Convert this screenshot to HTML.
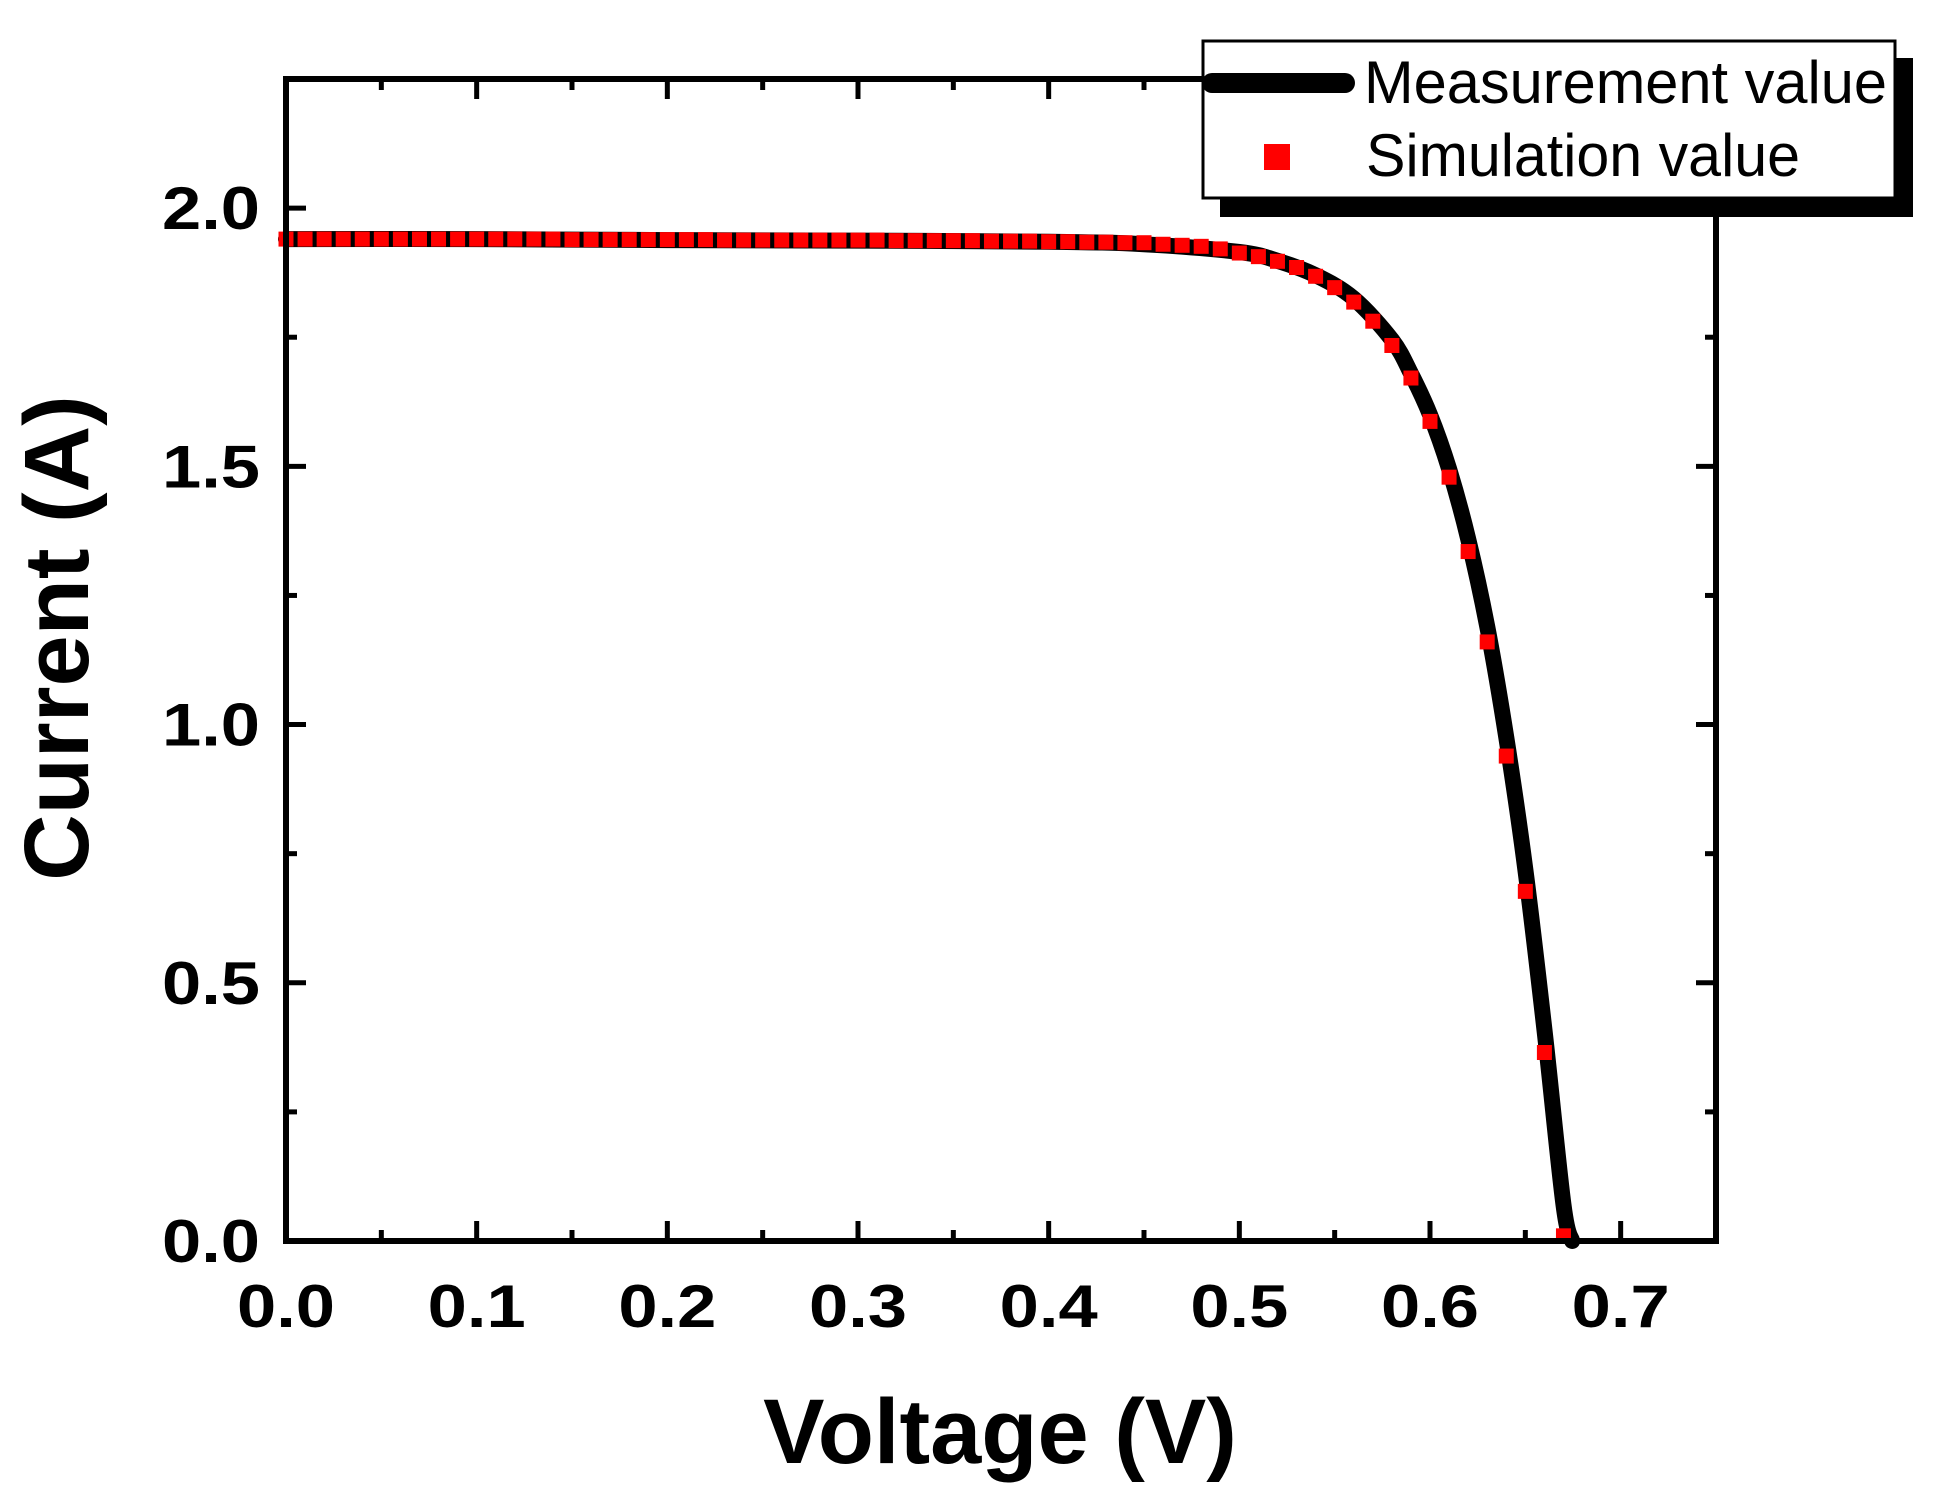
<!DOCTYPE html>
<html><head><meta charset="utf-8"><style>
html,body{margin:0;padding:0;background:#fff}
svg{display:block}
text{font-family:"Liberation Sans",Arial,sans-serif}
</style></head><body>
<svg id="chart" width="1942" height="1495" viewBox="0 0 1942 1495" xmlns="http://www.w3.org/2000/svg">
<g id="ticks"></g>
<g id="series"></g>
<rect x="286" y="79" width="1430" height="1162" fill="none" stroke="#000" stroke-width="6"/>
<g id="labels"></g>
<text x="1000" y="1463" text-anchor="middle" font-size="92" font-weight="bold">Voltage  (V)</text>
<text transform="translate(88,638) rotate(-90)" text-anchor="middle" font-size="92" font-weight="bold">Current  (A)</text>
<g>
<rect x="1220" y="58" width="693" height="159" fill="#000"/>
<rect x="1203" y="41" width="692" height="157" fill="#fff" stroke="#000" stroke-width="3"/>
<line x1="1212" y1="83" x2="1345" y2="83" stroke="#000" stroke-width="20" stroke-linecap="round"/>
<text x="1364" y="103" font-size="60" textLength="523" lengthAdjust="spacingAndGlyphs">Measurement value</text>
<rect x="1264" y="144" width="26" height="26" fill="#ff0000"/>
<text x="1366" y="176" font-size="60" textLength="434" lengthAdjust="spacingAndGlyphs">Simulation value</text>
</g>
</svg>
<script>
const xTicks=["0.0","0.1","0.2","0.3","0.4","0.5","0.6","0.7"];
const yTicks=["0.0","0.5","1.0","1.5","2.0"];
const measV=[0,0.1,0.2,0.3,0.4,0.45,0.5,0.52,0.54,0.56,0.58,0.59,0.6,0.61,0.62,0.63,0.64,0.65,0.66,0.67,0.6746];
const measI=[1.94,1.94,1.938,1.937,1.935,1.93,1.915,1.898,1.87,1.825,1.745,1.68,1.6,1.495,1.36,1.19,0.975,0.72,0.41,0.07,0.0];
const simV=[0,0.01,0.02,0.03,0.04,0.05,0.06,0.07,0.08,0.09,0.1,0.11,0.12,0.13,0.14,0.15,0.16,0.17,0.18,0.19,0.2,0.21,0.22,0.23,0.24,0.25,0.26,0.27,0.28,0.29,0.3,0.31,0.32,0.33,0.34,0.35,0.36,0.37,0.38,0.39,0.4,0.41,0.42,0.43,0.44,0.45,0.46,0.47,0.48,0.49,0.5,0.51,0.52,0.53,0.54,0.55,0.56,0.57,0.58,0.59,0.6,0.61,0.62,0.63,0.64,0.65,0.66,0.67];
const simI=[1.94,1.94,1.94,1.94,1.94,1.94,1.94,1.94,1.94,1.94,1.94,1.94,1.94,1.94,1.94,1.939,1.939,1.939,1.939,1.939,1.939,1.939,1.939,1.938,1.938,1.938,1.938,1.938,1.938,1.938,1.938,1.938,1.937,1.937,1.937,1.937,1.937,1.936,1.936,1.936,1.935,1.935,1.934,1.934,1.933,1.933,1.930,1.928,1.926,1.921,1.913,1.906,1.897,1.885,1.868,1.846,1.818,1.781,1.734,1.671,1.587,1.479,1.335,1.160,0.939,0.677,0.365,0.01];
const X0=286,X1=1716,Y0=1241,Y1=79,XMAX=0.75,YMAX=2.25;
const sx=v=>X0+v/XMAX*(X1-X0);
const sy=v=>Y0-v/YMAX*(Y0-Y1);
const NS="http://www.w3.org/2000/svg";
function mk(tag,attrs,parent){const e=document.createElementNS(NS,tag);for(const k in attrs)e.setAttribute(k,attrs[k]);parent.appendChild(e);return e;}
const tg=document.getElementById('ticks'),lg=document.getElementById('labels'),sg=document.getElementById('series');
for(let i=0;i<=15;i++){const v=i*0.05,x=sx(v),L=i%2===0?20:11;
 let t=mk('line',{x1:x,y1:Y0,x2:x,y2:Y0-L,stroke:'#000','stroke-width':5},tg);
 
 
 t=mk('line',{x1:x,y1:Y1,x2:x,y2:Y1+L,stroke:'#000','stroke-width':5},tg);
 
 }
for(let i=0;i<=9;i++){const v=i*0.25,y=sy(v),L=i%2===0?20:11;
 let t=mk('line',{x1:X0,y1:y,x2:X0+L,y2:y,stroke:'#000','stroke-width':5},tg);
 
 
 t=mk('line',{x1:X1,y1:y,x2:X1-L,y2:y,stroke:'#000','stroke-width':5},tg);
 
 }
xTicks.forEach((s,i)=>{const t=mk('text',{x:sx(parseFloat(s)),y:1327,'text-anchor':'middle','font-size':60,'font-weight':'bold',textLength:98,lengthAdjust:'spacingAndGlyphs'},lg);t.textContent=s;
 
 });
yTicks.forEach((s,i)=>{const t=mk('text',{x:260,y:sy(parseFloat(s))+21,'text-anchor':'end','font-size':60,'font-weight':'bold',textLength:98,lengthAdjust:'spacingAndGlyphs'},lg);t.textContent=s;
 
 });
const P=measV.map((v,i)=>[sx(v),sy(measI[i])]);
let d='M'+P[0][0]+','+P[0][1];
for(let i=0;i<P.length-1;i++){const p0=P[Math.max(0,i-1)],p1=P[i],p2=P[i+1],p3=P[Math.min(P.length-1,i+2)];
 const c1=[p1[0]+(p2[0]-p0[0])/6,p1[1]+(p2[1]-p0[1])/6],c2=[p2[0]-(p3[0]-p1[0])/6,p2[1]-(p3[1]-p1[1])/6];
 d+='C'+c1[0].toFixed(1)+','+c1[1].toFixed(1)+' '+c2[0].toFixed(1)+','+c2[1].toFixed(1)+' '+p2[0].toFixed(1)+','+p2[1].toFixed(1);}
const p=mk('path',{d:d,fill:'none',stroke:'#000','stroke-width':16,'stroke-linejoin':'round','stroke-linecap':'round'},sg);


simV.forEach((v,i)=>{const r=mk('rect',{x:sx(v)-7.5,y:sy(simI[i])-7.5,width:15,height:15,fill:'#ff0000'},sg);
 
 });
</script>
</body></html>
